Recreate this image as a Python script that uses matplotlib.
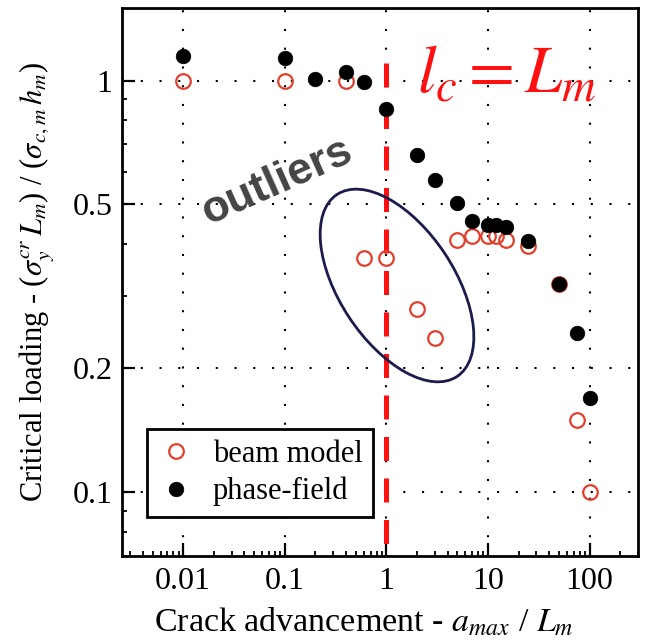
import matplotlib
matplotlib.use("Agg")
import matplotlib.pyplot as plt
from matplotlib.patches import Ellipse
from matplotlib.ticker import LogLocator, NullFormatter, FixedLocator, FixedFormatter

plt.rcParams['font.family'] = ['Liberation Serif', 'DejaVu Serif']
plt.rcParams['mathtext.fontset'] = 'stix'

# ---- data ----
beam_x = [0.01, 0.1, 0.4, 0.6, 1.0, 2.0, 3.0, 5.0, 7.0, 10.0, 12.0, 15.0, 25.0, 50.0, 75.0, 100.0]
beam_y = [1.0, 1.0, 1.0, 0.37, 0.37, 0.279, 0.237, 0.41, 0.418, 0.42, 0.42, 0.41, 0.397, 0.321, 0.150, 0.100]

pf_x = [0.01, 0.1, 0.2, 0.4, 0.6, 1.0, 2.0, 3.0, 5.0, 7.0, 10.0, 12.0, 15.0, 25.0, 50.0, 75.0, 100.0]
pf_y = [1.144, 1.137, 1.011, 1.046, 0.99, 0.855, 0.661, 0.574, 0.505, 0.456, 0.446, 0.446, 0.441, 0.408, 0.321, 0.243, 0.169]

x_ticks = [0.01, 0.1, 1, 10, 100]
x_ticklabels = ['0.01', '0.1', '1', '10', '100']
y_ticks = [0.1, 0.2, 0.5, 1]
y_ticklabels = ['0.1', '0.2', '0.5', '1']

lc_x = [1.0, 1.0]
lc_y = [1.1, 0.07]

fig = plt.figure(figsize=(6.47, 6.42), dpi=100)
ax = fig.add_axes([122/647, 86/642, 516/647, 548/642])
ax.set_xscale('log')
ax.set_yscale('log')
ax.set_xlim(0.0025, 300)
ax.set_ylim(0.07, 1.5)

red = '#e0402c'
ax.plot(lc_x, lc_y, color='#ff1010', lw=3.6, dashes=(4.8, 3.5), zorder=2, solid_capstyle='butt', dash_capstyle='butt')
ax.plot(beam_x, beam_y, 'o', ms=10.5, mfc='none', mec=red, mew=1.6, label='beam model', zorder=3)
ax.plot(pf_x, pf_y, 'o', ms=10.5, mfc='black', mec='black', mew=0.5, label='phase-field', zorder=4)

ax.xaxis.set_major_locator(FixedLocator(x_ticks))
ax.xaxis.set_major_formatter(FixedFormatter(x_ticklabels))
ax.yaxis.set_major_locator(FixedLocator(y_ticks))
ax.yaxis.set_major_formatter(FixedFormatter(y_ticklabels))
ax.xaxis.set_minor_locator(LogLocator(base=10, subs=range(2, 10), numticks=20))
ax.yaxis.set_minor_locator(LogLocator(base=10, subs=range(2, 10), numticks=20))
ax.xaxis.set_minor_formatter(NullFormatter())
ax.yaxis.set_minor_formatter(NullFormatter())

ax.grid(True, which='major', color='black', linestyle=(0, (1, 8)), linewidth=1.5)
ax.tick_params(which='both', direction='in', top=False, right=False)
ax.tick_params(which='major', length=9.5, width=1.6, labelsize=23, pad=8)
ax.tick_params(axis='y', which='major', pad=7)
ax.tick_params(which='minor', length=3.8, width=1.3)
for s in ax.spines.values():
    s.set_linewidth(2.0)

ax.set_xlabel('Crack advancement - $a_{max}$ / $L_m$', fontsize=24.5)
ax.set_ylabel('Critical loading - ($\\sigma_y^{cr}\\,L_m$) / ($\\sigma_{c,m}\\,h_m$)', fontsize=22)
ax.xaxis.set_label_coords(0.468, -0.091)
ax.yaxis.set_label_coords(-0.126, 0.501)

leg = ax.legend(loc='lower left', bbox_to_anchor=(25/516, 39/548), borderaxespad=0,
                fontsize=22, frameon=True, fancybox=False, framealpha=1,
                edgecolor='black', handletextpad=0.6, labelspacing=0.25,
                borderpad=0.35, handlelength=1.2)
leg.get_frame().set_linewidth(2.0)
leg.set_zorder(5)

ax.text((417-122)/516, (556-92)/548, r'$l_c = L_m$', transform=ax.transAxes,
        fontsize=48, color='#ff1010', ha='left', va='baseline', zorder=6)

ax.text((277-122)/516, (556-182)/548, 'outliers', transform=ax.transAxes,
        family=['Liberation Sans', 'DejaVu Sans'], fontweight='bold', fontsize=32,
        color='#444444', rotation=24, ha='center', va='center', zorder=6)

ell = Ellipse((3.97, 6.42 - 2.855), width=2.18, height=1.15, angle=-56.6,
              transform=fig.dpi_scale_trans, fill=False, edgecolor='#1b1b4d', lw=2.0, zorder=6)
ax.add_patch(ell)

fig.savefig('out.png', dpi=100)
